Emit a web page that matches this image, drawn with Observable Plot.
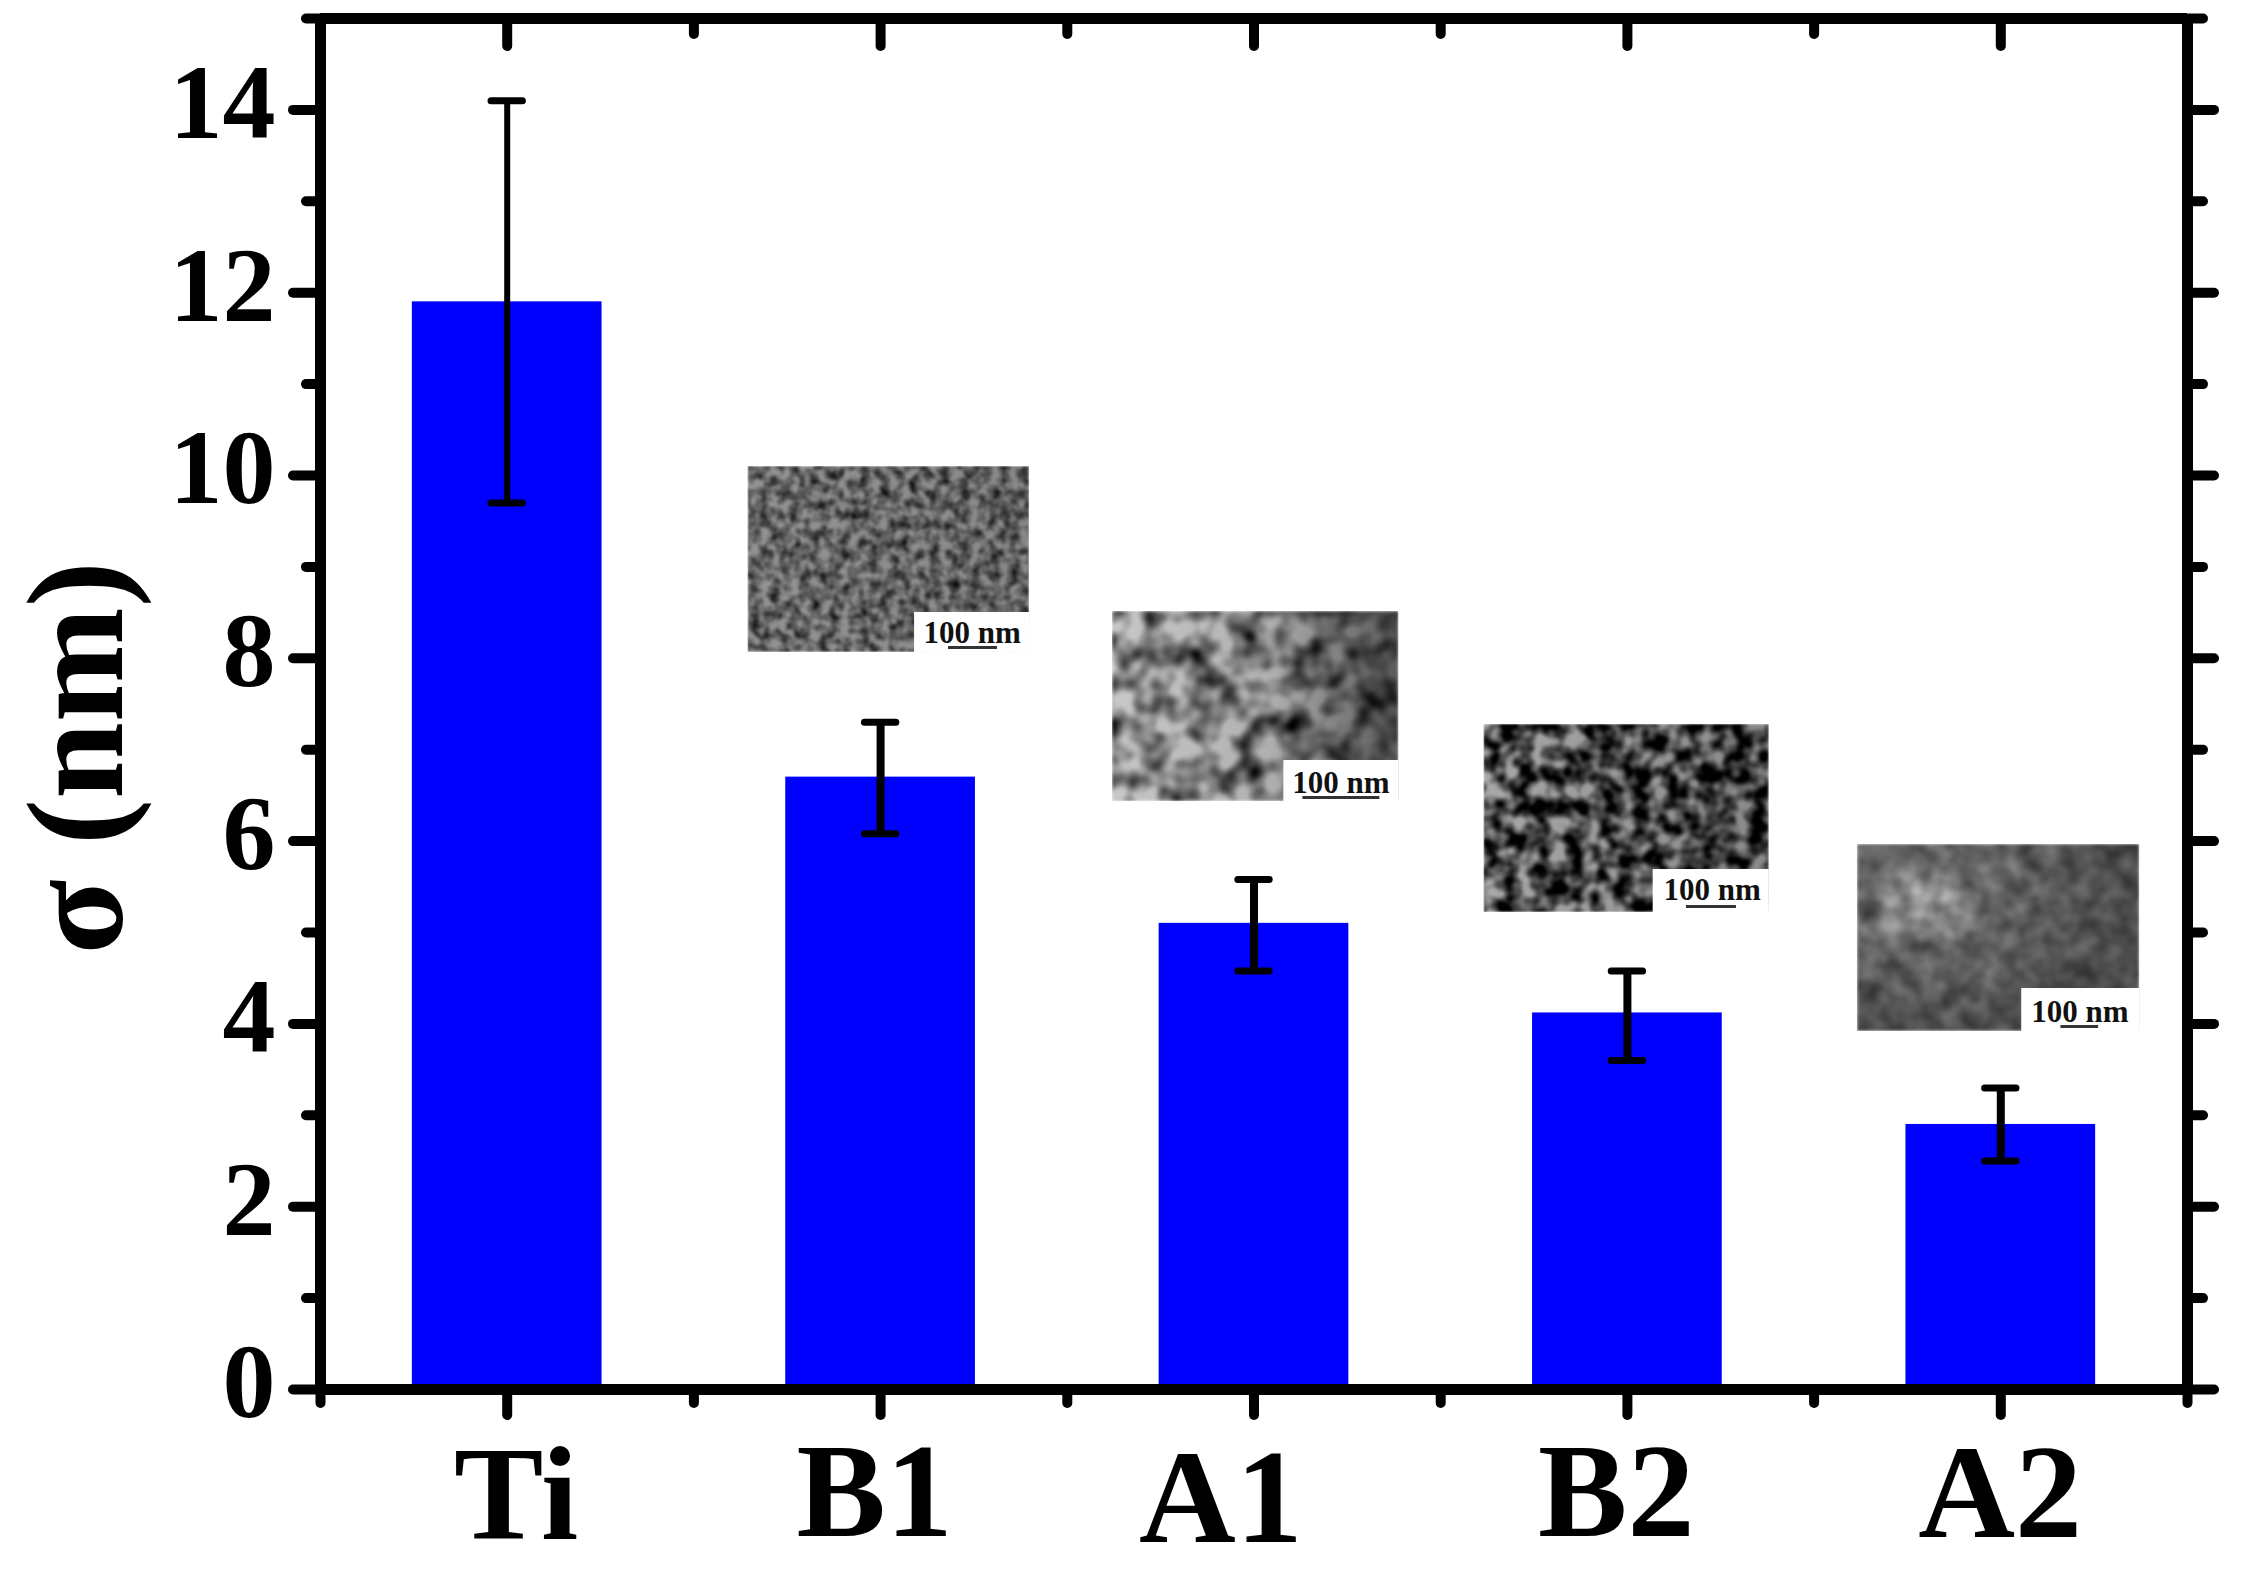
<!DOCTYPE html>
<html>
<head>
<meta charset="utf-8">
<script src="https://cdn.jsdelivr.net/npm/d3@7"></script>
<script src="https://cdn.jsdelivr.net/npm/@observablehq/plot@0.6"></script>
<style>
  html, body { margin: 0; padding: 0; background: #fff; }
  #chart svg { display: block; }
</style>
</head>
<body>
<!-- SEM insets: a gradient for the overall lighting, a noise filter for the grains -->
<svg width="0" height="0" style="position:absolute">
  <defs>
    <linearGradient id="light1"><stop offset="0" stop-color="#8c8c8c"/><stop offset="1" stop-color="#828282"/></linearGradient>
    <linearGradient id="light2"><stop offset="0" stop-color="#c8c8c8"/><stop offset="0.55" stop-color="#b0b0b0"/><stop offset="1" stop-color="#585858"/></linearGradient>
    <linearGradient id="light3"><stop offset="0" stop-color="#a8a8a8"/><stop offset="1" stop-color="#888888"/></linearGradient>
    <radialGradient id="light4" cx="0.24" cy="0.32" r="0.7">
      <stop offset="0" stop-color="#f0f0f0"/><stop offset="0.3" stop-color="#949494"/><stop offset="1" stop-color="#6c6c6c"/>
    </radialGradient>
    <filter id="sem1" x="0" y="0" width="1" height="1" color-interpolation-filters="sRGB">
      <feTurbulence type="fractalNoise" baseFrequency="0.1" numOctaves="2" seed="3"/>
      <feColorMatrix values="-1.7 0 0 0 1.55  -1.7 0 0 0 1.55  -1.7 0 0 0 1.55  0 0 0 0 1" result="n"/>
      <feComposite in="n" in2="SourceGraphic" operator="arithmetic" k1="1.05" k2="0" k3="0" k4="0"/>
      <feGaussianBlur stdDeviation="0.9"/>
      <feComposite in2="SourceAlpha" operator="in"/>
    </filter>
    <filter id="sem2" x="0" y="0" width="1" height="1" color-interpolation-filters="sRGB">
      <feTurbulence type="fractalNoise" baseFrequency="0.042" numOctaves="2" seed="8" result="t"/>
      <feColorMatrix in="t" values="-1.9 0 0 0 1.65  -1.9 0 0 0 1.65  -1.9 0 0 0 1.65  0 0 0 0 1" result="n"/>
      <feComposite in="n" in2="SourceGraphic" operator="arithmetic" k1="1" k2="0" k3="0" k4="0"/>
      <feGaussianBlur stdDeviation="1.8"/>
      <feComposite in2="SourceAlpha" operator="in"/>
    </filter>
    <filter id="sem3" x="0" y="0" width="1" height="1" color-interpolation-filters="sRGB">
      <feTurbulence type="fractalNoise" baseFrequency="0.06" numOctaves="2" seed="12" result="t"/>
      <feColorMatrix in="t" values="-2.6 0 0 0 1.75  -2.6 0 0 0 1.75  -2.6 0 0 0 1.75  0 0 0 0 1" result="n"/>
      <feComposite in="n" in2="SourceGraphic" operator="arithmetic" k1="1" k2="0" k3="0" k4="0"/>
      <feGaussianBlur stdDeviation="1.1"/>
      <feComposite in2="SourceAlpha" operator="in"/>
    </filter>
    <filter id="sem4" x="0" y="0" width="1" height="1" color-interpolation-filters="sRGB">
      <feTurbulence type="fractalNoise" baseFrequency="0.05" numOctaves="2" seed="21"/>
      <feColorMatrix values="0.8 0 0 0 0.3  0.8 0 0 0 0.3  0.8 0 0 0 0.3  0 0 0 0 1" result="n"/>
      <feComposite in="n" in2="SourceGraphic" operator="arithmetic" k1="1" k2="0" k3="0" k4="0"/>
      <feGaussianBlur stdDeviation="1.5"/>
      <feComposite in2="SourceAlpha" operator="in"/>
    </filter>
  </defs>
</svg>
<div id="chart"></div>
<script>
const categories = ["Ti", "B1", "A1", "B2", "A2"];
const sigma = [11.9, 6.7, 5.1, 4.12, 2.9];
const errLow = [9.7, 6.08, 4.58, 3.6, 2.5];
const errHigh = [14.1, 7.3, 5.58, 4.58, 3.3];

const yMajor = [0, 2, 4, 6, 8, 10, 12, 14];
const yMinor = [1, 3, 5, 7, 9, 11, 13, 15];
const xMajor = [0.5, 1.5, 2.5, 3.5, 4.5];
const xMinor = [0, 1, 2, 3, 4, 5];

const scaleText = "100 nm";
const yTitle = "σ (nm)";

// the category labels were placed by hand in the original, not on the ticks
const labelX = [0.524, 1.484, 2.411, 3.47, 4.498];
const labelY = [-1.635, -1.6, -1.665, -1.6, -1.61];

// inset pictures, in axis units
const insetX1 = [1.145, 2.121, 3.116, 4.116];
const insetX2 = [1.899, 2.888, 3.88, 4.872];
const insetY1 = [8.064, 6.433, 5.219, 3.917];
const insetY2 = [10.098, 8.512, 7.276, 5.963];
const notchX = [1.591, 2.58, 3.569, 4.556];
const notchY = [8.501, 6.882, 5.689, 4.387];
const scaleX = [1.745, 2.733, 3.727, 4.712];
const scaleY = [8.271, 6.63, 5.46, 4.125];
const barX1 = [1.682, 2.631, 3.658, 4.661];
const barX2 = [1.813, 2.837, 3.792, 4.762];
const barY = [8.118, 6.477, 5.284, 3.972];

const bars = categories.map((c, i) => ({
  name: c, pos: xMajor[i], sigma: sigma[i], low: errLow[i], high: errHigh[i],
  lx: labelX[i], ly: labelY[i]
}));
const insets = insetX1.map((d, i) => ({
  x1: d, x2: insetX2[i], y1: insetY1[i], y2: insetY2[i],
  nx: notchX[i], ny: notchY[i], tx: scaleX[i], ty: scaleY[i],
  bx1: barX1[i], bx2: barX2[i], by: barY[i]
}));

const barHalf = 0.254;
const capHalf = 0.042;

const axisStyle = { strokeWidth: 10, strokeLinecap: "round", text: null, label: null };

function insetMarks(i) {
  const d = [insets[i]];
  return [
    Plot.rect(d, {
      x1: "x1", x2: "x2", y1: "y1", y2: "y2",
      fill: `url(#light${i + 1})`, imageFilter: `url(#sem${i + 1})`
    }),
    Plot.rect(d, { x1: "nx", x2: "x2", y1: "y1", y2: "ny", fill: "white" })
  ];
}

const chart = Plot.plot({
  width: 2252,
  height: 1572,
  marginLeft: 320,
  marginRight: 65,
  marginTop: 18,
  marginBottom: 183,
  style: { fontFamily: "Liberation Serif", fontWeight: "bold", background: "white", color: "black" },
  x: { domain: [0, 5] },
  y: { domain: [0, 15] },
  marks: [
    Plot.rectY(bars, {
      x1: d => d.pos - barHalf, x2: d => d.pos + barHalf, y: "sigma", fill: "#0000ff"
    }),
    // error bars
    Plot.ruleX(bars, {
      x: "pos", y1: "low", y2: "high", stroke: "black",
      strokeWidth: d => d.name === "Ti" ? 6 : 8
    }),
    Plot.ruleY(bars, {
      x1: d => d.pos - capHalf, x2: d => d.pos + capHalf, y: "low", stroke: "black",
      strokeWidth: 7, strokeLinecap: "round"
    }),
    Plot.ruleY(bars, {
      x1: d => d.pos - capHalf, x2: d => d.pos + capHalf, y: "high", stroke: "black",
      strokeWidth: 7, strokeLinecap: "round"
    }),
    // insets
    ...insets.flatMap((d, i) => insetMarks(i)),
    Plot.text(insets, {
      x: "tx", y: "ty", text: () => scaleText, fontSize: 31, fill: "#111", lineAnchor: "middle"
    }),
    Plot.ruleY(insets, { x1: "bx1", x2: "bx2", y: "by", strokeWidth: 3, stroke: "#333" }),
    // frame
    Plot.ruleX([0, 5], { strokeWidth: 11 }),
    Plot.ruleY([0, 15], { strokeWidth: 11 }),
    // ticks on all four sides
    Plot.axisY(yMajor, { anchor: "left", tickSize: 27, ...axisStyle }),
    Plot.axisY(yMinor, { anchor: "left", tickSize: 14, ...axisStyle }),
    Plot.axisY(yMajor, { anchor: "right", tickSize: 26, ...axisStyle }),
    Plot.axisY(yMinor, { anchor: "right", tickSize: 15, ...axisStyle }),
    Plot.axisX(xMajor, { anchor: "bottom", tickSize: 26, ...axisStyle }),
    Plot.axisX(xMinor, { anchor: "bottom", tickSize: 14, ...axisStyle }),
    Plot.axisX(xMajor, { anchor: "top", tickSize: -27, ...axisStyle }),
    Plot.axisX(xMinor, { anchor: "top", tickSize: -15, ...axisStyle }),
    // tick labels
    Plot.axisY(yMajor, {
      anchor: "left", tickSize: 0, tickPadding: 45, label: null, dy: -6,
      tickFormat: d => d, fontSize: 106, fontWeight: "bold", fontVariant: "normal"
    }),
    Plot.text(bars, {
      x: "lx", y: "ly", text: "name", fontSize: 134, fontWeight: "bold",
      lineAnchor: "bottom"
    }),
    Plot.text([yTitle], {
      x: [-0.65], y: [6.91], rotate: -90, fontSize: 138, fontWeight: "bold",
      lineAnchor: "middle"
    })
  ]
});

document.getElementById("chart").append(chart);
</script>
</body>
</html>
